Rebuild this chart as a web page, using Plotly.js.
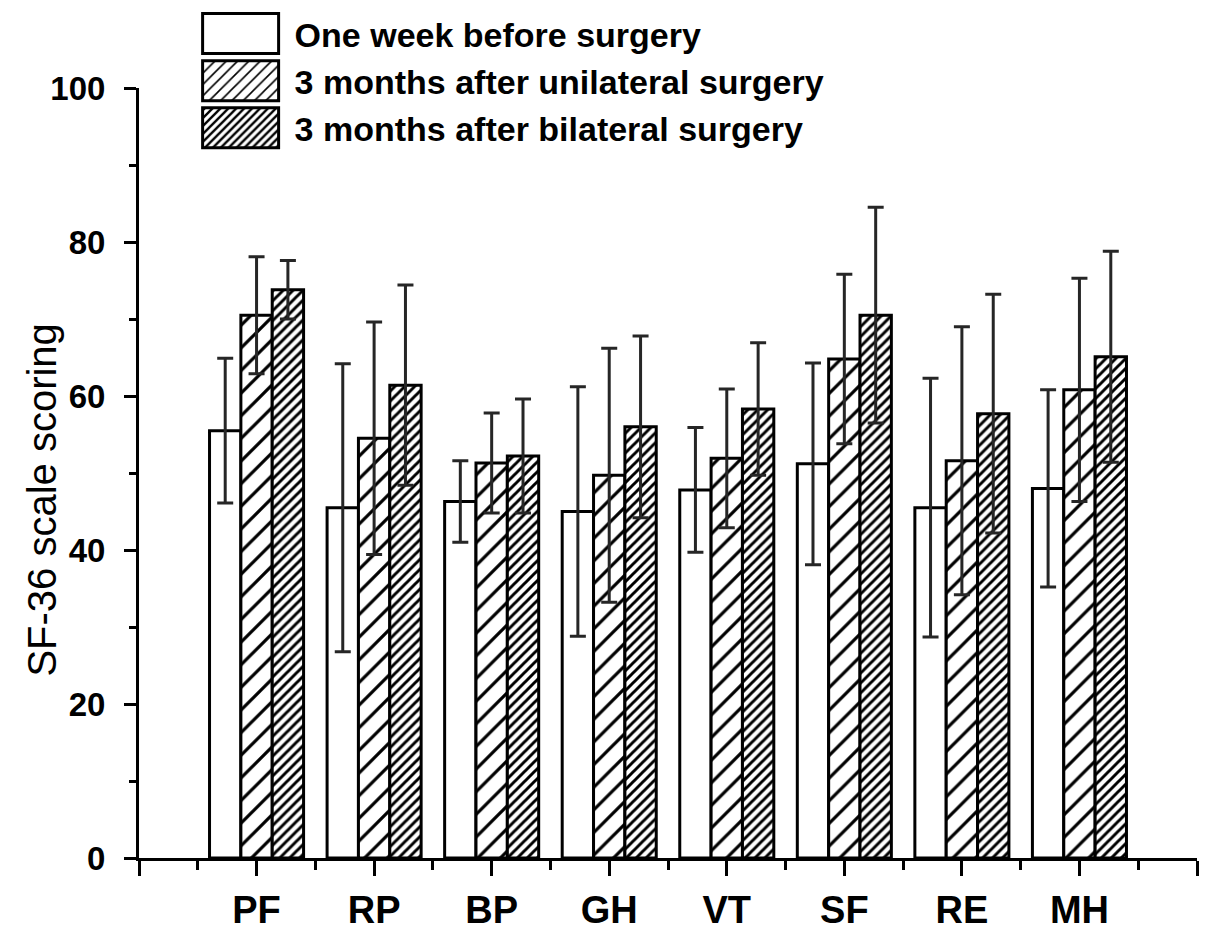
<!DOCTYPE html>
<html>
<head>
<meta charset="utf-8">
<script src="https://cdn.plot.ly/plotly-3.0.1.min.js"></script>
<style>
html,body{margin:0;padding:0;background:#fff;}
#chart{width:1205px;height:935px;}
</style>
</head>
<body>
<div id="chart"></div>
<script>
const categories = ['PF','RP','BP','GH','VT','SF','RE','MH'];
const seriesNames = ['One week before surgery','3 months after unilateral surgery','3 months after bilateral surgery'];
const beforeVals = [55.5, 45.5, 46.3, 45.0, 47.8, 51.2, 45.5, 48.0];
const beforeErr  = [9.4, 18.7, 5.3, 16.2, 8.1, 13.1, 16.8, 12.8];
const uniVals    = [70.5, 54.5, 51.3, 49.7, 51.9, 64.8, 51.6, 60.8];
const uniErr     = [7.6, 15.1, 6.5, 16.5, 9.0, 11.0, 17.4, 14.5];
const bilVals    = [73.8, 61.4, 52.2, 56.0, 58.3, 70.5, 57.7, 65.1];
const bilErr     = [3.8, 13.0, 7.4, 11.8, 8.6, 14.0, 15.5, 13.7];
const yTickVals  = [0, 20, 40, 60, 80, 100];
const yTitle = 'SF-36 scale scoring';

const xPos = categories.map((c, i) => i + 1);
const xTickVals = [0].concat(xPos, [categories.length + 1]);
const xTickText = [''].concat(categories, ['']);

function errSpec(arr){
  return {type:'data', array:arr, visible:true, color:'#262626', thickness:3, width:8};
}
const lineSpec = {color:'#000', width:3};

const traces = [
  {type:'bar', name:seriesNames[0], x:xPos, y:beforeVals, error_y:errSpec(beforeErr),
   marker:{color:'#fff', line:lineSpec}},
  {type:'bar', name:seriesNames[1], x:xPos, y:uniVals, error_y:errSpec(uniErr),
   marker:{color:'#fff', line:lineSpec, pattern:{shape:'/', size:16, solidity:0.2, fgcolor:'#000', bgcolor:'#fff', fillmode:'replace'}}},
  {type:'bar', name:seriesNames[2], x:xPos, y:bilVals, error_y:errSpec(bilErr),
   marker:{color:'#fff', line:lineSpec, pattern:{shape:'/', size:7, solidity:0.42, fgcolor:'#000', bgcolor:'#fff', fillmode:'replace'}}}
];

const layout = {
  width:1205, height:935,
  margin:{l:139, r:8, t:88, b:77, pad:0, autoexpand:false},
  paper_bgcolor:'#fff', plot_bgcolor:'#fff',
  barmode:'group', bargap:0.2, bargroupgap:0,
  showlegend:true,
  legend:{x:0.045, y:1.108, xanchor:'left', yanchor:'top', bgcolor:'rgba(0,0,0,0)',
    font:{family:'Liberation Sans, Arial, sans-serif', size:34, color:'#000', weight:'bold'},
    itemwidth:98, tracegroupgap:0, valign:'middle'},
  xaxis:{range:[0, categories.length + 1], tickmode:'array', tickvals:xTickVals, ticktext:xTickText,
    showline:true, linecolor:'#000', linewidth:3, showgrid:false, zeroline:false, automargin:false,
    ticks:'outside', ticklen:15, tickwidth:3, tickcolor:'#000', ticklabelstandoff:1,
    tickfont:{family:'Liberation Sans, Arial, sans-serif', size:38, color:'#000', weight:'bold'},
    minor:{tickmode:'linear', tick0:0, dtick:0.5, ticks:'outside', ticklen:9, tickwidth:3, tickcolor:'#000', showgrid:false},
    fixedrange:true},
  yaxis:{range:[0,100], tickmode:'array', tickvals:yTickVals,
    showline:true, linecolor:'#000', linewidth:3, showgrid:false, zeroline:false, automargin:false,
    ticks:'outside', ticklen:12, tickwidth:3, tickcolor:'#000', ticklabelstandoff:12,
    tickfont:{family:'Liberation Sans, Arial, sans-serif', size:33, color:'#000', weight:'bold'},
    minor:{tickmode:'linear', tick0:0, dtick:10, ticks:'outside', ticklen:7, tickwidth:3, tickcolor:'#000', showgrid:false},
    fixedrange:true},
  annotations:[{text:yTitle, textangle:-90, xref:'paper', yref:'paper', x:-0.092, y:0.465,
    xanchor:'center', yanchor:'middle', showarrow:false,
    font:{family:'Liberation Sans, Arial, sans-serif', size:40, color:'#000'}}]
};

Plotly.newPlot('chart', traces, layout, {displayModeBar:false, staticPlot:true}).then(function(gd){
  // enlarge legend swatches to match the reference's large boxes
  const pts = gd.querySelectorAll('.legend .traces .legendpoints path');
  pts.forEach(function(p){
    p.setAttribute('d', 'M38,20H-38V-20H38Z');
    p.style.strokeWidth = '3px';
    p.style.stroke = '#000';
  });
});
</script>
</body>
</html>
